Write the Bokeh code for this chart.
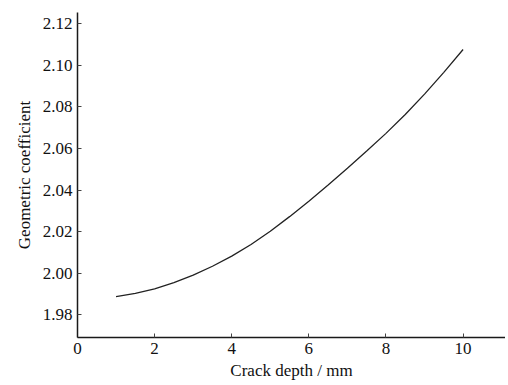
from bokeh.plotting import figure
from bokeh.models import Range1d, FixedTicker
from bokeh.embed import file_html
from bokeh.resources import INLINE

crack_depth = [1.0, 1.5, 2.0, 2.5, 3.0, 3.5, 4.0, 4.5, 5.0, 5.5,
               6.0, 6.5, 7.0, 7.5, 8.0, 8.5, 9.0, 9.5, 10.0]
geom_coeff = [1.9887, 1.9903, 1.9924, 1.9954, 1.9990, 2.0033, 2.0082, 2.0138, 2.0202, 2.0272,
              2.0346, 2.0424, 2.0505, 2.0588, 2.0673, 2.0764, 2.0862, 2.0967, 2.1077]
x_ticks = [0, 2, 4, 6, 8, 10]
y_ticks = [1.98, 2.00, 2.02, 2.04, 2.06, 2.08, 2.10, 2.12]

p = figure(width=505, height=382, output_backend="svg", toolbar_location=None,
           x_range=Range1d(0, 11.1), y_range=Range1d(1.969, 2.1255),
           min_border_left=77, min_border_right=0, min_border_top=12, min_border_bottom=45)
p.outline_line_color = None
p.grid.visible = False
p.background_fill_color = "white"

p.line(crack_depth, geom_coeff, line_color="#222222", line_width=1.3)

font = "Liberation Serif"
p.xaxis.ticker = FixedTicker(ticks=x_ticks)
p.yaxis.ticker = FixedTicker(ticks=y_ticks)
p.yaxis.major_label_overrides = {t: f"{t:.2f}" for t in y_ticks}
p.xaxis.axis_label = "Crack depth / mm"
p.yaxis.axis_label = "Geometric coefficient"
for ax in (p.xaxis, p.yaxis):
    ax.axis_line_color = "#1a1a1a"
    ax.axis_line_width = 1.5
    ax.major_tick_in = 4
    ax.major_tick_out = 0
    ax.minor_tick_line_color = None
    ax.major_tick_line_color = "#444444"
    ax.major_label_text_font = font
    ax.major_label_text_font_size = "17px"
    ax.major_label_text_color = "#111111"
    ax.axis_label_text_font = font
    ax.axis_label_text_font_size = "17px"
    ax.axis_label_text_font_style = "normal"
    ax.axis_label_text_color = "#111111"
p.xaxis.major_label_standoff = 5
p.xaxis.axis_label_standoff = 4
p.yaxis.major_label_standoff = 5
p.yaxis.axis_label_standoff = 6

open("out.html", "w").write(file_html(p, INLINE))
